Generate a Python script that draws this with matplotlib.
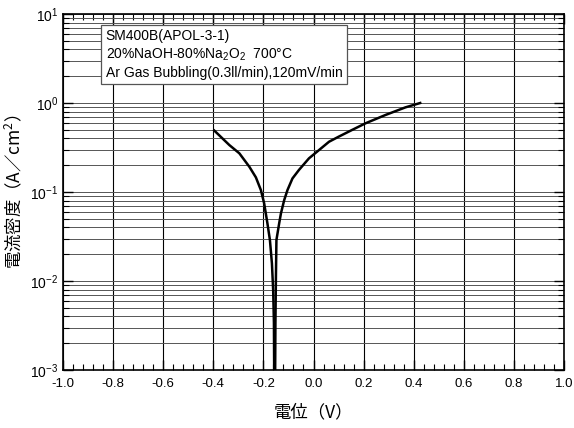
import matplotlib
matplotlib.use("Agg")
import matplotlib.pyplot as plt
from matplotlib.ticker import LogLocator, MultipleLocator, NullFormatter

plt.rcParams["font.family"] = ["Liberation Sans", "Noto Sans CJK JP", "DejaVu Sans"]
plt.rcParams["mathtext.default"] = "regular"

# potential (V) and current density (A/cm2)
left_v = [-0.396, -0.336, -0.296, -0.256, -0.230, -0.210, -0.197, -0.184,
          -0.174, -0.166, -0.161, -0.158, -0.157]
left_i = [0.49, 0.337, 0.272, 0.192, 0.146, 0.105, 0.0746, 0.0445,
          0.0289, 0.0158, 0.0079, 0.0034, 0.001]
right_v = [-0.153, -0.152, -0.150, -0.148, -0.137, -0.130, -0.117, -0.104,
           -0.084, -0.058, -0.018, 0.022, 0.062, 0.101, 0.154, 0.208,
           0.287, 0.367, 0.426]
right_i = [0.001, 0.00335, 0.0112, 0.0289, 0.0445, 0.0575, 0.081, 0.105,
           0.142, 0.177, 0.239, 0.296, 0.367, 0.419, 0.498, 0.592,
           0.733, 0.893, 1.0]

info_lines = [
    "SM400B(APOL-3-1)",
    "20%NaOH-80%Na$_2$O$_2$  700°C",
    "Ar Gas Bubbling(0.3ll/min),120mV/min",
]

fig = plt.figure(figsize=(5.74, 4.28), dpi=100)
ax = fig.add_axes([63 / 574, 58 / 428, 501 / 574, 356 / 428])

ax.set_yscale("log")
ax.set_xlim(-1.0, 1.0)
ax.set_ylim(1e-3, 1e1)

ax.xaxis.set_major_locator(MultipleLocator(0.2))
ax.xaxis.set_minor_locator(MultipleLocator(0.04))
ax.yaxis.set_major_locator(LogLocator(base=10))
ax.yaxis.set_minor_locator(LogLocator(base=10, subs=range(2, 10)))
ax.yaxis.set_minor_formatter(NullFormatter())
ax.xaxis.set_major_formatter(plt.FuncFormatter(lambda v, _: f"{v:.1f}"))

# grid: vertical at major x, horizontal at every log tick
ax.grid(True, axis="x", which="major", color="black", linewidth=0.8)
ax.grid(True, axis="y", which="both", color="#555555", linewidth=0.7)

ax.tick_params(which="both", direction="in", top=True, right=True,
               labelsize=10, colors="black")
ax.tick_params(axis="x", labelsize=9.5, pad=6)
ax.tick_params(which="major", length=7, width=1.0)
ax.tick_params(which="minor", length=4, width=0.8)

for s in ax.spines.values():
    s.set_linewidth(1.2)

ax.plot(left_v, left_i, color="black", linewidth=1.8)
ax.plot(right_v, right_i, color="black", linewidth=1.8)

ax.text(0.085, 0.958, "\n".join(info_lines), transform=ax.transAxes,
        ha="left", va="top", fontsize=10, linespacing=1.3,
        bbox=dict(boxstyle="square,pad=0.3", facecolor="white",
                  edgecolor="#555555", linewidth=0.9))

ax.set_xlabel("電位（V）", fontsize=12.5, labelpad=9,
              family=["Noto Sans CJK JP"])
ax.set_ylabel("電流密度（A／cm$^2$）", fontsize=12.5, labelpad=4,
              family=["Noto Sans CJK JP"])

fig.savefig("out.png", dpi=100)
